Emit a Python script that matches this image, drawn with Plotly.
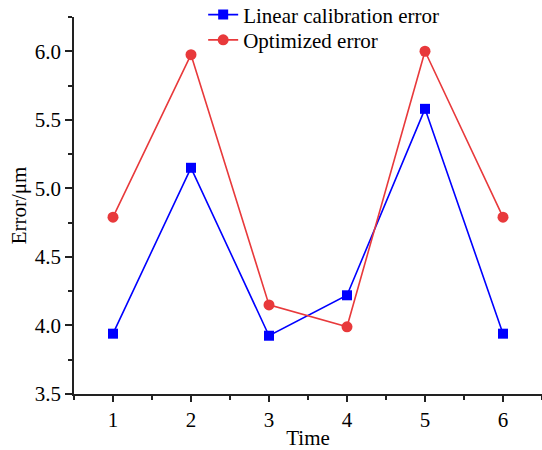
import plotly.graph_objects as go

time = [1, 2, 3, 4, 5, 6]
linear_error = [3.94, 5.15, 3.925, 4.22, 5.58, 3.94]
optimized_error = [4.79, 5.975, 4.15, 3.99, 6.0, 4.79]

FONT = "Liberation Serif, Times New Roman, serif"
AX = "#222222"

fig = go.Figure()
fig.add_trace(go.Scatter(
    x=time, y=linear_error, mode="lines+markers", name="Linear calibration error",
    line=dict(color="#0000FF", width=1.6),
    marker=dict(symbol="square", size=10, color="#0000FF"),
    legend="legend",
))
fig.add_trace(go.Scatter(
    x=time, y=optimized_error, mode="lines+markers", name="Optimized error",
    line=dict(color="#E8393B", width=1.6),
    marker=dict(symbol="circle", size=11, color="#E8393B"),
    legend="legend2",
))

leg_common = dict(
    xanchor="left", yanchor="middle",
    bgcolor="rgba(0,0,0,0)", borderwidth=0,
    font=dict(family=FONT, size=21, color="black"),
    itemwidth=30,
)

fig.update_layout(
    width=542, height=450,
    margin=dict(l=74, r=0, t=0, b=56, autoexpand=False),
    paper_bgcolor="white", plot_bgcolor="white",
    font=dict(family=FONT, size=21, color="black"),
    showlegend=True,
    legend=dict(x=0.276, y=0.962, **leg_common),
    legend2=dict(x=0.276, y=0.898, **leg_common),
    xaxis=dict(
        range=[0.5, 6.5], tickmode="linear", tick0=1, dtick=1,
        showgrid=False, zeroline=False,
        showline=True, linecolor=AX, linewidth=1.5,
        ticks="outside", ticklen=6, tickwidth=1.5, tickcolor=AX,
        minor=dict(ticks="outside", ticklen=4, tickwidth=1.5, tickcolor=AX, tick0=0.5, dtick=0.5, showgrid=False),
        tickfont=dict(family=FONT, size=21, color="black"),
        title=dict(text="Time", font=dict(family=FONT, size=21, color="black"), standoff=4),
    ),
    yaxis=dict(
        domain=[0, 0.9569],
        range=[3.5, 6.25], tickmode="linear", tick0=3.5, dtick=0.5, tickformat=".1f",
        showgrid=False, zeroline=False,
        showline=True, linecolor=AX, linewidth=1.5,
        ticks="outside", ticklen=7, tickwidth=1.5, tickcolor=AX,
        minor=dict(ticks="outside", ticklen=4, tickwidth=1.5, tickcolor=AX, tick0=3.5, dtick=0.25, showgrid=False),
        tickfont=dict(family=FONT, size=21, color="black"),
        title=dict(text="Error/μm", font=dict(family=FONT, size=21, color="black"), standoff=2),
    ),
)

fig.write_html("out.html", config={"displayModeBar": False},
               post_script="document.body.style.margin='0';document.body.style.padding='0';")
